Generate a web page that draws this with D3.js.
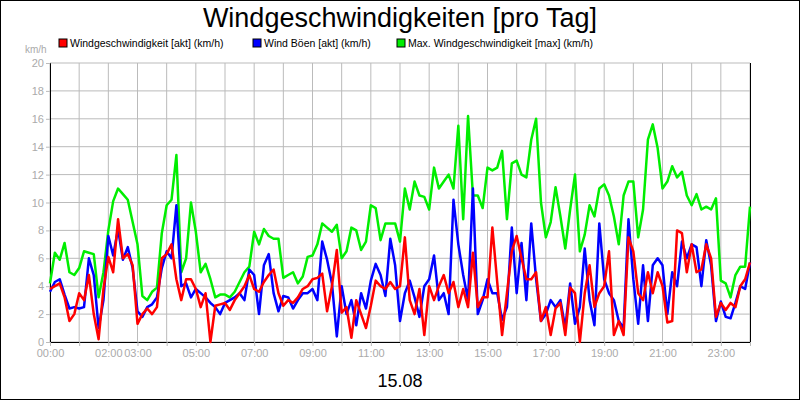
<!DOCTYPE html>
<html><head><meta charset="utf-8">
<script src="https://cdn.jsdelivr.net/npm/d3@7"></script>
<style>body{margin:0;background:#fff}svg{display:block;font-family:"Liberation Sans",Arial,sans-serif}</style>
</head><body><svg id="c" width="800" height="400"></svg>
<script>
const title = "Windgeschwindigkeiten [pro Tag]";
const dateLabel = "15.08";
const seriesNames = ["Windgeschwindigkeit [akt] (km/h)", "Wind Böen [akt] (km/h)", "Max. Windgeschwindigkeit [max] (km/h)"];
const seriesColors = ["#ff0000", "#0000ff", "#00ee00"];
const xTickPos = [0, 2, 3, 5, 7, 9, 11, 13, 15, 17, 19, 21, 23];
const xTickLabels = ["00:00","02:00","03:00","05:00","07:00","09:00","11:00","13:00","15:00","17:00","19:00","21:00","23:00"];
const yTicks = [0,2,4,6,8,10,12,14,16,18,20];
// 10-minute samples, 145 points
const windMax = [4.2,6.4,5.9,7.1,5.0,4.8,5.3,6.5,6.4,6.3,3.2,5,8,10.1,11,10.6,10.2,8.6,7,3.3,3,3.6,3.9,7.8,9.8,10.2,13.4,5,6,10,7.9,5,5.6,4.5,3.2,3.4,3.4,3.2,3.6,4.3,5,5.4,7.9,7,8.1,7.6,7.4,7.4,4.6,4.8,5,4.2,4.7,6.1,6.2,7,8.5,8.2,7.9,8.4,6,6.5,8.2,8,6.6,7.2,9.8,9.6,7.3,8.5,8.5,8.5,7.2,11,9.5,11.5,10.5,10.4,9.5,12.5,11,11.5,12,11,15.5,8.8,16.2,10.5,10.5,9.6,12.5,12.3,12.5,13.7,8.8,12.8,13,12,11.8,14.5,16,10,7.5,8.6,11.1,9,6.7,9.5,12,6.5,7.7,9.8,9,11,11.3,10.5,9,7,10.5,11.5,11.5,7.5,9.5,14.5,15.6,13.9,11,11.5,12.6,11.8,12.2,10.5,9.8,10.6,9.5,9.7,9.5,10.3,4.4,4.2,3.2,4.8,5.4,5.4,9.7];
const windGust = [3.6,4.3,4.5,3.4,2.4,2.5,2.4,2.5,6,4.8,1,3,7.6,6.2,8.1,5.9,6.8,5.3,2.2,1.8,2.5,2.7,3.2,5.3,6.5,6,9.8,4,4.2,3.2,3.8,3.5,3.2,2.8,2.5,2,2.8,3,3.2,3.5,3,5.2,4.8,2,5.5,6.3,3.5,2.2,3.3,3.2,2.4,3,3.5,3.5,3.8,3,7.2,5.9,4.2,0.4,4,2,3,1.2,3.5,2.4,4.4,5.6,4.8,3.3,7.4,5.5,1.5,3.5,4.4,3.2,1.8,4,4.5,6.2,3,3.5,2,10.2,7,4.8,3,11,2,3,4.5,3.5,3.5,1.6,2.5,8.2,3.5,7.1,3,8.5,4.5,1.5,2,3,2.5,3,1,4.2,1.3,2.5,6.7,3,1.2,8.5,4.5,3.5,3,1.5,1,8.8,4.5,1.3,5.5,1.5,5.5,6,5.5,2,5,4,7.2,6,7,6.8,4,7.3,5.5,1.5,2.9,1.8,1.7,2.8,4,3.8,5.7];
const windNow = [3.8,4,4.2,3.2,1.5,2,3.5,3,4.8,2,0.2,3.8,6.1,5,8.8,6,6.3,5.5,1.3,2,2.4,2,2.5,6,6.3,7,4.5,3,4.5,4.5,3.8,2.5,3.5,0,2.6,2.7,2.8,2.3,3,3.5,4,4.8,3.8,3.6,4.3,4.8,5.2,3.5,2.6,3,2.8,3.2,3.8,4,4.5,4.6,4.9,2.2,4,6.6,2.1,2.5,0.3,3,2,1,2.6,4.4,4,3.8,4.3,3.8,4,7.5,3,2,3.8,0.5,4,3,4,4.8,3.5,4.3,2.5,3.8,2.5,6.4,2.5,3.2,3.2,8.2,4.3,0.5,3.5,6.5,7.6,6,4.5,4.5,5,1.5,2.5,0.5,2.4,2.8,0.5,3.9,3.5,0,3.5,5.5,2.5,3.5,4,6.5,0.5,1.5,0.5,7.5,6.5,3.5,3,5,3.5,5,4,1.4,1.5,8,7.8,5,7,5,5.2,7,6,1.8,2.8,2.3,2.8,2.5,4,4.5,5.7];

const svg = d3.select("#c");
const L = 50, R = 750, T = 63, B = 342;
svg.append("rect").attr("x",0.5).attr("y",0.5).attr("width",799).attr("height",399).attr("fill","#fff").attr("stroke","#000");
const x = d3.scaleLinear().domain([0,24]).range([L,R]);
const y = d3.scaleLinear().domain([0,20]).range([B,T]);
const g = svg.append("g");
// grid
g.selectAll(".vg").data(d3.range(0,25)).join("line").attr("x1",d=>x(d)).attr("x2",d=>x(d)).attr("y1",T).attr("y2",B).attr("stroke","#bbb");
g.selectAll(".hg").data(yTicks).join("line").attr("x1",L).attr("x2",R).attr("y1",d=>y(d)).attr("y2",d=>y(d)).attr("stroke","#bbb");
// axes
const yAx = svg.append("g").attr("transform",`translate(${L},0)`).call(d3.axisLeft(y).tickValues(yTicks).tickSize(4).tickPadding(2));
yAx.select(".domain").attr("stroke","#000");
yAx.selectAll("line").attr("stroke","#bbb");
yAx.selectAll("text").attr("fill","#aaa").style("font-size","11px");
const xAx = svg.append("g").attr("transform",`translate(0,${B})`).call(d3.axisBottom(x).tickValues(d3.range(0,25)).tickSize(4).tickFormat(d=>{const i=xTickPos.indexOf(d);return i>=0?xTickLabels[i]:"";}));
xAx.select(".domain").attr("stroke","#000");
xAx.selectAll("line").attr("stroke","#bbb");
xAx.selectAll("text").attr("fill","#aaa").style("font-size","11px");
svg.append("line").attr("x1",R+0.5).attr("x2",R+0.5).attr("y1",T).attr("y2",B).attr("stroke","#000");
svg.append("text").attr("x",25).attr("y",53).attr("fill","#aaa").style("font-size","10px").text("km/h");
// lines
const step = 24/144;
const line = d3.line().x((d,i)=>x(i*step)).y(d=>y(d));
[[windMax,2],[windGust,1],[windNow,0]].forEach(([data,ci])=>{
  svg.append("path").datum(data).attr("d",line).attr("fill","none").attr("stroke",seriesColors[ci]).attr("stroke-width",2.5).attr("stroke-linejoin","round");
});
// title
svg.append("text").attr("x",400).attr("y",27).attr("text-anchor","middle").style("font-size","27px").attr("fill","#000").text(title);
svg.append("text").attr("x",400).attr("y",387).attr("text-anchor","middle").style("font-size","18px").attr("fill","#000").text(dateLabel);
// legend
const legX = [59, 253, 397];
seriesNames.forEach((n,i)=>{
  svg.append("rect").attr("x",legX[i]).attr("y",39).attr("width",8).attr("height",8).attr("fill",seriesColors[i]).attr("stroke","#000");
  svg.append("text").attr("x",legX[i]+11).attr("y",47).style("font-size","10.5px").attr("fill","#000").text(n);
});
</script></body></html>
